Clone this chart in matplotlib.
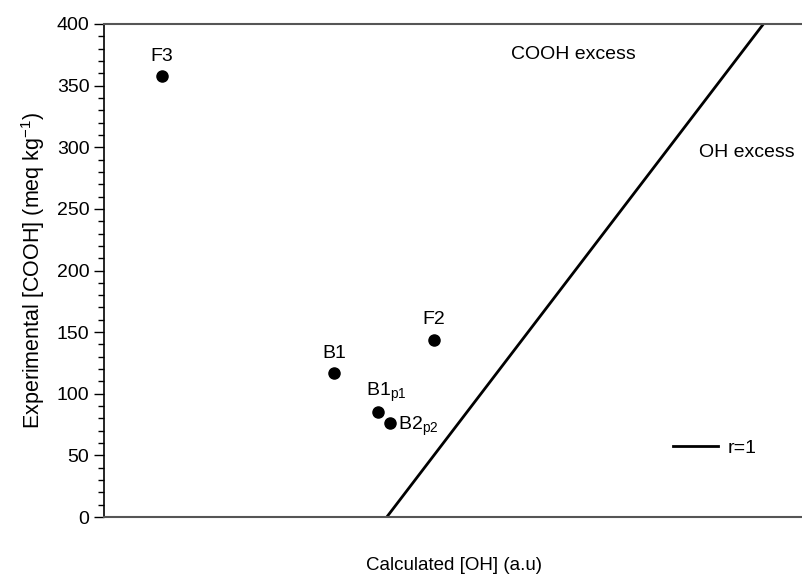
import numpy as np
import matplotlib.pyplot as plt
from matplotlib.ticker import MultipleLocator

plt.rcParams['font.family'] = ['Liberation Sans', 'DejaVu Sans']
plt.rcParams['mathtext.fontset'] = 'custom'
plt.rcParams['mathtext.rm'] = 'Liberation Sans'
plt.rcParams['mathtext.it'] = 'Liberation Sans:italic'

# samples: calculated OH (a.u.) vs experimental COOH (meq/kg)
labels = ['F3', 'B1', 'F2', r'B1$_{\mathrm{p1}}$', r'B2$_{\mathrm{p2}}$']
calc_oh = [0.083, 0.329, 0.471, 0.392, 0.408]
exp_cooh = [358, 117, 144, 85, 76]

# r = 1 boundary
r1_x = [0.404, 0.942]
r1_y = [0, 400]

fig = plt.figure(figsize=(8.03, 5.78), dpi=100)
ax = fig.add_axes([104 / 803, 61 / 578, 700 / 803, 493 / 578])

ax.plot(calc_oh, exp_cooh, 'o', color='black', markersize=8, zorder=3)
ax.plot(r1_x, r1_y, color='black', lw=2, label='r=1')

offsets = [(0, 8, 'center', 'bottom'),
           (0, 8, 'center', 'bottom'),
           (0, 8, 'center', 'bottom'),
           (6, 6, 'center', 'bottom'),
           (6, -2, 'left', 'center')]
for lab, x, y, (dx, dy, ha, va) in zip(labels, calc_oh, exp_cooh, offsets):
    ax.annotate(lab, (x, y), xytext=(dx, dy), textcoords='offset points',
                ha=ha, va=va, fontsize=14)

ax.text(0.67, 375, 'COOH excess', ha='center', va='center', fontsize=14)
ax.text(0.918, 296, 'OH excess', ha='center', va='center', fontsize=14)

ax.legend(loc='center left', bbox_to_anchor=(0.813, 0.14), frameon=False,
          fontsize=14, handlelength=2.3, handletextpad=0.5,
          borderpad=0, borderaxespad=0)

ax.set_xlim(0, 1)
ax.set_ylim(0, 400)
ax.yaxis.set_major_locator(MultipleLocator(50))
ax.yaxis.set_minor_locator(MultipleLocator(10))
ax.set_xticks([])
ax.tick_params(axis='y', which='major', length=7, width=1, labelsize=14, direction='out')
ax.tick_params(axis='y', which='minor', length=4, width=1, direction='out')

ax.spines['right'].set_visible(False)
for side in ['top', 'bottom']:
    ax.spines[side].set_color('#555555')
    ax.spines[side].set_linewidth(1.5)
ax.spines['left'].set_linewidth(1.2)

ax.set_xlabel('Calculated [OH] (a.u)', fontsize=13.5, labelpad=29)
ax.set_ylabel('Experimental [COOH] (meq kg$^{-1}$)', fontsize=15.5, labelpad=7)

fig.savefig('out.png', dpi=100)
